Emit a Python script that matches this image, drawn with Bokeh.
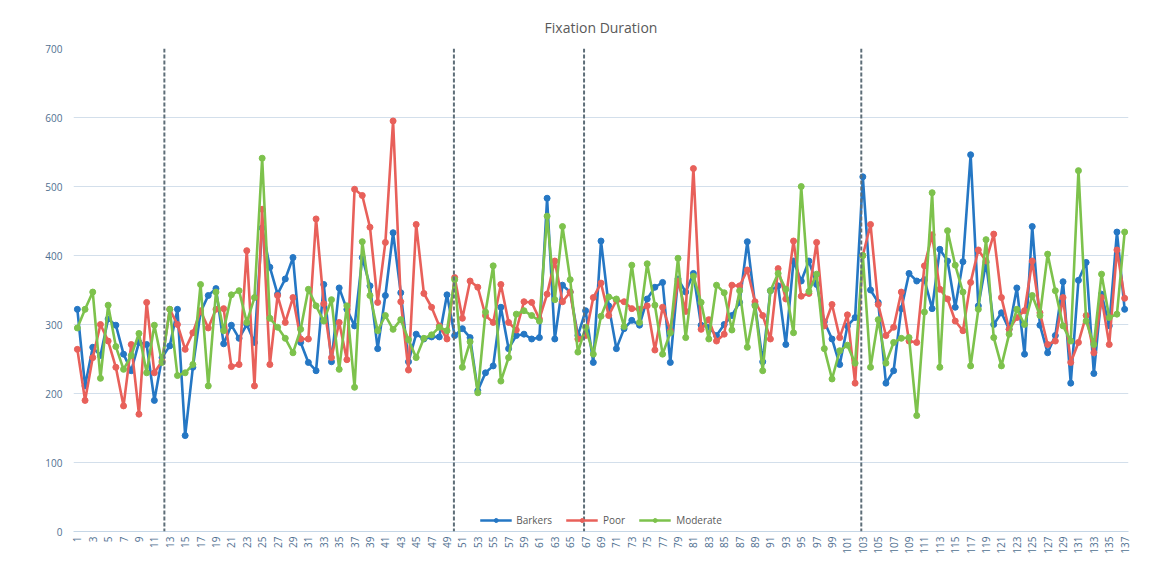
from bokeh.plotting import figure
from bokeh.models import FixedTicker, Span, Legend, LegendItem, Range1d
from bokeh.embed import file_html
from bokeh.resources import INLINE

samples = list(range(1, 138))
tick_labels = [str(i) for i in range(1, 138, 2)]

barkers = [322, 211, 267, 255, 308, 299, 257, 233, 274, 271, 190, 252, 269, 322, 139, 238, 318, 342, 352, 272,
           299, 280, 300, 274, 440, 383, 344, 366, 397, 274, 245, 233, 358, 246, 353, 322, 298, 397, 356, 265,
           342, 433, 346, 246, 286, 279, 282, 282, 343, 284, 294, 281, 204, 230, 240, 325, 265, 284, 286, 279,
           281, 483, 279, 357, 347, 284, 320, 245, 421, 327, 265, 294, 306, 299, 337, 354, 361, 245, 366, 347,
           374, 299, 296, 284, 300, 313, 332, 420, 329, 246, 349, 356, 271, 392, 363, 392, 358, 304, 279, 242,
           298, 310, 514, 350, 332, 215, 233, 323, 374, 363, 365, 323, 409, 392, 325, 391, 546, 327, 390, 300,
           317, 293, 353, 257, 442, 299, 259, 284, 362, 215, 364, 390, 229, 344, 298, 434, 322]

poor = [264, 190, 252, 300, 276, 238, 182, 271, 170, 332, 230, 247, 322, 300, 264, 288, 320, 295, 322, 323,
        239, 242, 407, 211, 467, 242, 342, 303, 339, 279, 279, 453, 330, 252, 303, 249, 496, 487, 441, 332,
        419, 595, 333, 234, 445, 345, 325, 298, 279, 368, 309, 363, 354, 313, 303, 358, 303, 292, 333, 332,
        308, 344, 392, 333, 347, 279, 284, 339, 360, 313, 335, 333, 323, 322, 327, 263, 325, 291, 363, 319,
        526, 293, 307, 276, 286, 357, 356, 379, 333, 313, 279, 381, 337, 421, 341, 345, 419, 298, 329, 281,
        314, 215, 400, 445, 329, 284, 296, 347, 276, 274, 385, 430, 351, 337, 305, 291, 361, 408, 392, 431,
        339, 293, 310, 320, 392, 317, 271, 276, 339, 245, 274, 313, 259, 339, 271, 408, 338]

moderate = [295, 322, 347, 222, 328, 268, 235, 255, 287, 230, 299, 245, 322, 226, 230, 242, 358, 211, 347, 291,
            343, 349, 303, 339, 541, 309, 296, 280, 259, 293, 351, 327, 305, 336, 235, 327, 209, 420, 342, 291,
            313, 293, 307, 278, 252, 280, 285, 296, 291, 365, 238, 275, 201, 318, 385, 218, 252, 315, 320, 313,
            305, 457, 336, 442, 365, 260, 296, 257, 312, 340, 337, 297, 386, 303, 388, 328, 257, 288, 396, 281,
            370, 332, 279, 357, 346, 292, 349, 267, 327, 233, 349, 374, 351, 288, 500, 348, 373, 265, 221, 262,
            270, 244, 400, 238, 307, 244, 274, 280, 281, 168, 318, 491, 238, 436, 386, 347, 240, 322, 423, 281,
            240, 286, 322, 300, 342, 313, 402, 349, 298, 276, 523, 305, 271, 373, 310, 315, 434]

phase_breaks = [12.3, 49.9, 66.8, 102.8]

series = [("Barkers", barkers, "#2577c4"), ("Poor", poor, "#e8605a"), ("Moderate", moderate, "#7dc24c")]

p = figure(frame_width=1055, frame_height=483, output_backend="svg", toolbar_location=None,
           x_range=Range1d(0.5, 137.5), y_range=Range1d(0, 700),
           min_border_left=73, min_border_right=15, min_border_top=48, min_border_bottom=0,
           title="Fixation Duration")
p.outline_line_color = None
p.background_fill_color = "white"
p.title.align = "center"
p.title.text_font = "Open Sans"
p.title.text_font_size = "14px"
p.title.text_font_style = "normal"
p.title.text_color = "#595959"
p.title.standoff = 24

p.xgrid.grid_line_color = None
p.ygrid.grid_line_color = "#d3dfeb"
p.ygrid.grid_line_width = 1

p.yaxis.ticker = FixedTicker(ticks=list(range(0, 701, 100)))
p.yaxis.axis_label = None
p.yaxis.axis_line_color = None
p.yaxis.major_tick_line_color = None
p.yaxis.minor_tick_line_color = None
p.yaxis.major_tick_out = 0
p.yaxis.major_label_text_font = "Open Sans"
p.yaxis.major_label_text_font_size = "10px"
p.yaxis.major_label_text_color = "#4f6f90"
p.yaxis.major_label_standoff = 11

p.xaxis.ticker = FixedTicker(ticks=[int(t) for t in tick_labels])
p.xaxis.axis_label = None
p.xaxis.axis_line_color = "#c5d6e6"
p.xaxis.major_tick_line_color = None
p.xaxis.minor_tick_line_color = None
p.xaxis.major_tick_out = 0
p.xaxis.major_tick_in = 0
p.xaxis.major_label_orientation = 1.5708
p.xaxis.major_label_text_font = "Open Sans"
p.xaxis.major_label_text_font_size = "10px"
p.xaxis.major_label_text_color = "#4f6f90"
p.xaxis.major_label_standoff = 5

for b in phase_breaks:
    p.add_layout(Span(location=b, dimension="height", line_color="#5e6e78",
                      line_width=2, line_dash="4 2"))

items = []
for name, vals, col in series:
    ln = p.line(samples, vals, line_color=col, line_width=2.6)
    sc = p.scatter(samples, vals, marker="circle", size=6, fill_color=col, line_color=col)
    items.append(LegendItem(label=name, renderers=[ln, sc]))

legend = Legend(items=items, orientation="horizontal", location="bottom_center",
                label_text_font="Open Sans", label_text_font_size="10px",
                label_text_color="#595959", glyph_width=32, glyph_height=10,
                label_height=12, spacing=14, padding=2, margin=4,
                border_line_color=None, background_fill_alpha=0)
p.add_layout(legend)

open("out.html", "w").write(file_html(p, INLINE))
